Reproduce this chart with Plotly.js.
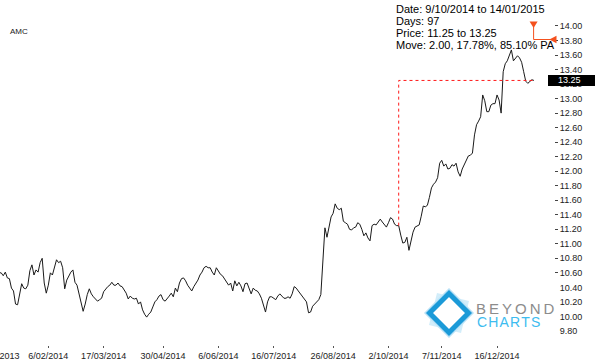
<!DOCTYPE html>
<html><head><meta charset="utf-8">
<script src="https://cdn.plot.ly/plotly-3.0.1.min.js"></script>
<style>
html,body{margin:0;padding:0;background:#fff;overflow:hidden;width:595px;height:360px}
#chart{position:absolute;left:-10px;top:0;width:605px;height:360px}
</style>
</head><body><div id="chart"></div>
<script>
// ---------------- data ----------------
const ticker = "AMC";
const firstDay = "2013-12-31";
const lastDay = "2015-01-14";
const marketHolidays = ["2014-01-01","2014-01-27","2014-04-18","2014-04-21","2014-04-25",
  "2014-06-09","2014-12-25","2014-12-26","2015-01-01"];

const closePrices = [
10.57,10.60,10.60,10.56,10.61,10.53,10.52,10.39,10.35,10.17,
10.16,10.30,10.45,10.39,10.38,10.43,10.63,10.71,10.57,10.64,
10.61,10.74,10.80,10.46,10.32,10.43,10.60,10.57,10.69,10.78,
10.74,10.76,10.67,10.38,10.50,10.56,10.61,10.64,10.47,10.43,
10.30,10.16,10.07,10.17,10.30,10.38,10.31,10.27,10.24,10.21,
10.23,10.25,10.34,10.38,10.41,10.43,10.47,10.43,10.43,10.46,
10.42,10.41,10.36,10.32,10.24,10.28,10.25,10.24,10.25,10.17,
10.20,10.09,10.03,9.99,10.03,10.06,10.13,10.20,10.23,10.28,
10.30,10.23,10.21,10.24,10.28,10.32,10.27,10.39,10.34,10.46,
10.52,10.53,10.49,10.43,10.39,10.35,10.41,10.45,10.50,10.57,
10.61,10.67,10.69,10.67,10.67,10.61,10.57,10.67,10.63,10.58,
10.56,10.52,10.47,10.43,10.46,10.35,10.49,10.42,10.47,10.42,
10.34,10.45,10.46,10.38,10.31,10.39,10.36,10.35,10.31,10.25,
10.14,10.06,10.20,10.27,10.27,10.25,10.23,10.28,10.31,10.28,
10.25,10.25,10.27,10.25,10.31,10.41,10.39,10.35,10.31,10.27,
10.24,10.20,10.05,10.06,10.14,10.17,10.20,10.23,10.30,10.75,
11.22,11.09,11.22,11.37,11.42,11.55,11.49,11.47,11.49,11.31,
11.29,11.27,11.20,11.19,11.22,11.23,11.29,11.27,11.20,11.11,
11.15,11.08,11.04,11.25,11.27,11.26,11.30,11.34,11.30,11.26,
11.23,11.29,11.36,11.34,11.27,11.25,11.25,11.12,11.01,11.02,
11.09,10.91,11.05,11.16,11.23,11.24,11.26,11.38,11.52,11.51,
11.53,11.64,11.77,11.82,11.85,11.91,12.11,12.15,12.07,12.10,
12.03,12.04,12.09,12.07,12.11,11.99,11.93,12.03,12.09,12.15,
12.21,12.22,12.25,12.50,12.64,12.69,12.75,13.05,12.97,12.82,
12.82,12.91,12.93,12.93,13.05,12.98,12.80,13.37,13.48,13.52,
13.59,13.67,13.52,13.56,13.59,13.56,13.50,13.37,13.24,13.21,
13.23,13.26,13.25];

const xTickDates = ["31/12/2013","6/02/2014","17/03/2014","30/04/2014","6/06/2014",
  "16/07/2014","26/08/2014","2/10/2014","7/11/2014","16/12/2014"];
const yTickValues = [9.8,10.0,10.2,10.4,10.6,10.8,11.0,11.2,11.4,11.6,11.8,12.0,
  12.2,12.4,12.6,12.8,13.0,13.2,13.4,13.6,13.8,14.0];

const moveStart = "9/10/2014";
const moveEnd = "14/01/2015";
const infoLines = ["Date: 9/10/2014 to 14/01/2015", "Days: 97",
  "Price: 11.25 to 13.25", "Move: 2.00, 17.78%, 85.10% PA"];

// ---------------- trading-day calendar ----------------
function tradingDays(from, to, hol) {
  const out = [];
  const d = new Date(from + "T00:00:00Z"), end = new Date(to + "T00:00:00Z");
  while (d <= end) {
    const iso = d.toISOString().slice(0, 10);
    const wd = d.getUTCDay();
    if (wd !== 0 && wd !== 6 && hol.indexOf(iso) < 0) {
      const mm = String(d.getUTCMonth() + 1).padStart(2, "0");
      out.push(d.getUTCDate() + "/" + mm + "/" + d.getUTCFullYear());
    }
    d.setUTCDate(d.getUTCDate() + 1);
  }
  return out;
}
const dates = tradingDays(firstDay, lastDay, marketHolidays);

// ---------------- layout helpers (decorations only) ----------------
const W = 564, H = 345, OX = 10;
const px = x => (x + OX) / W;
const py = y => (H - y) / H;
const pathOf = pts => "M" + pts.map(p => px(p[0]).toFixed(5) + "," + py(p[1]).toFixed(5)).join("L") + "Z";
const FONT = "Liberation Sans, Arial, sans-serif";

const iS = dates.indexOf(moveStart), iE = dates.indexOf(moveEnd);
const lastPrice = closePrices[closePrices.length - 1];

const traces = [
  { x: dates, y: closePrices, type: "scatter", mode: "lines",
    line: { color: "#1a1a1a", width: 1 }, hoverinfo: "skip" },
  { x: [moveStart, moveStart, moveEnd], y: [closePrices[iS], closePrices[iE], closePrices[iE]],
    type: "scatter", mode: "lines", line: { color: "#ff1a1a", width: 1, dash: "dot" }, hoverinfo: "skip" }
];

const orange = "#f4511e";
const shapes = [
  // price tag box
  { type: "rect", xref: "paper", yref: "y", x0: px(548), x1: px(600),
    y0: lastPrice - 0.076, y1: lastPrice + 0.076, fillcolor: "#000", line: { width: 0 }, layer: "above" },
  // cursor markers
  { type: "line", xref: "paper", yref: "paper", x0: px(533.6), x1: px(533.6), y0: py(26), y1: py(39.5),
    line: { color: orange, width: 1 }, layer: "above" },
  { type: "line", xref: "paper", yref: "paper", x0: px(533.6), x1: px(551), y0: py(39.5), y1: py(39.5),
    line: { color: orange, width: 1 }, layer: "above" },
  { type: "path", xref: "paper", yref: "paper", path: pathOf([[529.6,21.5],[537.6,21.5],[533.6,28]]),
    fillcolor: orange, line: { width: 0 }, layer: "above" },
  { type: "path", xref: "paper", yref: "paper", path: pathOf([[549.3,39.5],[556.5,35.8],[556.5,43.2]]),
    fillcolor: orange, line: { width: 0 }, layer: "above" },
  // logo
  { type: "rect", xref: "paper", yref: "paper", x0: px(420), x1: px(558), y0: py(345), y1: py(283),
    fillcolor: "#fff", line: { width: 0 }, layer: "above" },
  { type: "path", xref: "paper", yref: "paper", path: pathOf([[449,288],[474,313],[449,338],[424,313]]),
    fillcolor: "#9fd6f3", opacity: 0.75, line: { width: 0 }, layer: "above" },
  { type: "path", xref: "paper", yref: "paper", path: pathOf([[437,293],[469,301],[461,333],[429,325]]),
    fillcolor: "#bfe5f8", opacity: 0.7, line: { width: 0 }, layer: "above" },
  { type: "path", xref: "paper", yref: "paper", path: pathOf([[449,293.5],[468.5,313],[449,332.5],[429.5,313]]),
    fillcolor: "#ffffff", line: { color: "#1b9ad8", width: 5 }, layer: "above" }
];

const annotations = infoLines.map((t, i) => ({
  xref: "paper", yref: "paper", x: px(394), y: py(8.5 + i * 12.3), xanchor: "left", yanchor: "middle",
  text: t, showarrow: false, font: { family: FONT, size: 11, color: "#000" }
}));
annotations.push(
  { xref: "paper", yref: "paper", x: px(8), y: py(31), xanchor: "left", yanchor: "middle",
    text: ticker, showarrow: false, font: { family: FONT, size: 8, color: "#222" } },
  { xref: "paper", yref: "y", x: px(556), y: lastPrice, xanchor: "left", yanchor: "middle",
    text: lastPrice.toFixed(2), showarrow: false, font: { family: FONT, size: 9, color: "#fff" } },
  { xref: "paper", yref: "paper", x: px(474), y: py(308.5), xanchor: "left", yanchor: "middle",
    text: "B\u2009E\u2009Y\u2009O\u2009N\u2009D", showarrow: false, font: { family: FONT, size: 15, color: "#8c8c8c" } },
  { xref: "paper", yref: "paper", x: px(475), y: py(322), xanchor: "left", yanchor: "middle",
    text: "C\u200aH\u200aA\u200aR\u200aT\u200aS", showarrow: false, font: { family: FONT, size: 14, color: "#3dbcf0" } }
);

const layout = {
  width: 605, height: 360,
  margin: { l: 0, r: 41, t: 0, b: 15, pad: 0 },
  paper_bgcolor: "#fff", plot_bgcolor: "#fff",
  showlegend: false,
  xaxis: {
    type: "category", range: [-3.465, 271.8],
    tickmode: "array", tickvals: xTickDates, ticktext: xTickDates,
    ticks: "outside", ticklen: 2, tickcolor: "#555", tickwidth: 1,
    showgrid: false, zeroline: false, showline: false,
    tickfont: { family: FONT, size: 9, color: "#222" }, fixedrange: true
  },
  yaxis: {
    side: "right", range: [9.606, 14.358],
    tickmode: "array", tickvals: yTickValues, ticktext: yTickValues.map(v => v.toFixed(2)),
    ticks: "outside", ticklen: 3, tickcolor: "#444", tickwidth: 1,
    showgrid: false, zeroline: false, showline: false,
    tickfont: { family: FONT, size: 9, color: "#222" }, fixedrange: true
  },
  shapes: shapes,
  annotations: annotations
};

Plotly.newPlot("chart", traces, layout, { staticPlot: true, displayModeBar: false });
</script>
</body></html>
